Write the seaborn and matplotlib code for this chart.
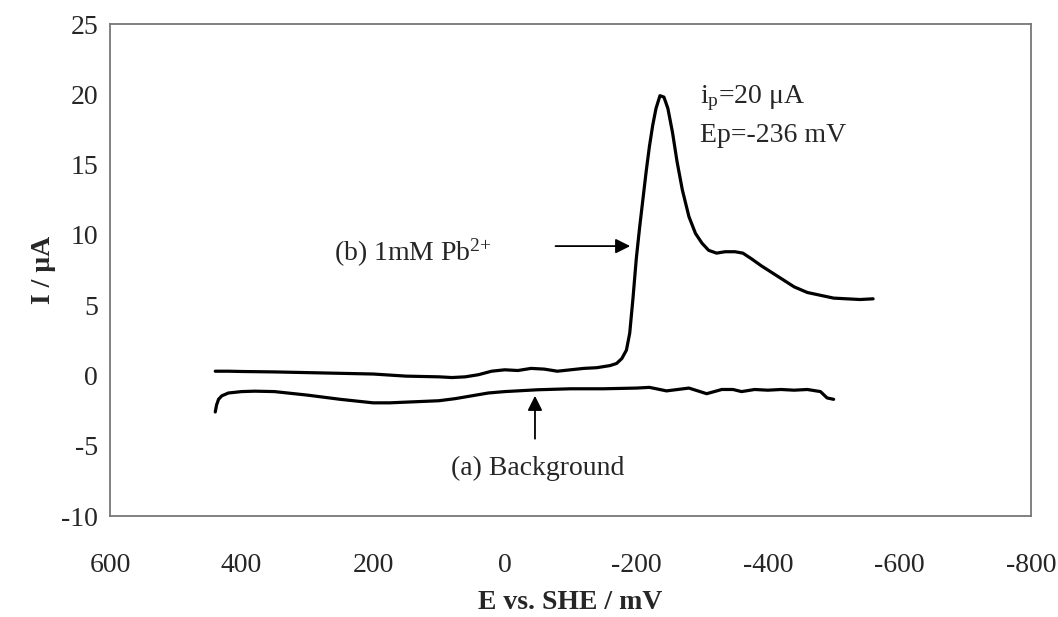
import numpy as np
import pandas as pd
import matplotlib
matplotlib.use("Agg")
import matplotlib.pyplot as plt
import seaborn as sns

# ---- data ----
pb_E = [440, 420, 400, 350, 300, 250, 200, 150, 100, 80, 60, 40, 20, 0, -20, -40, -60,
        -80, -100, -120, -140, -160, -170, -178, -185, -190, -195, -200, -205, -210,
        -215, -220, -225, -230, -236, -242, -248, -255, -262, -270, -280, -290, -300,
        -310, -322, -335, -350, -362, -375, -390, -400, -420, -440, -460, -480, -500,
        -520, -540, -560]
pb_I = [0.30, 0.30, 0.28, 0.25, 0.20, 0.15, 0.10, -0.05, -0.10, -0.15, -0.10, 0.05, 0.30,
        0.40, 0.35, 0.50, 0.45, 0.30, 0.40, 0.50, 0.55, 0.70, 0.85, 1.2, 1.8, 3.0, 5.5,
        8.3, 10.5, 12.5, 14.5, 16.3, 17.8, 19.0, 19.9, 19.8, 19.0, 17.3, 15.2, 13.2, 11.3,
        10.1, 9.4, 8.9, 8.7, 8.8, 8.8, 8.7, 8.3, 7.8, 7.5, 6.9, 6.3, 5.9, 5.7, 5.5,
        5.45, 5.4, 5.45]

bg_E = [440, 438, 435, 430, 420, 400, 380, 350, 300, 250, 200, 175, 150, 100, 75, 50, 25,
        0, -50, -100, -150, -200, -220, -246, -280, -307, -330, -347, -360, -380, -400,
        -420, -440, -460, -480, -490, -500]
bg_I = [-2.6, -2.1, -1.7, -1.45, -1.25, -1.15, -1.12, -1.15, -1.4, -1.7, -1.95, -1.95,
        -1.9, -1.8, -1.65, -1.45, -1.25, -1.15, -1.02, -0.95, -0.95, -0.9, -0.85, -1.1,
        -0.9, -1.3, -1.0, -1.0, -1.15, -1.0, -1.05, -1.0, -1.05, -1.0, -1.15, -1.6, -1.7]

x_ticks = [600, 400, 200, 0, -200, -400, -600, -800]
y_ticks = [-10, -5, 0, 5, 10, 15, 20, 25]

# ---- styling ----
sns.set_theme(style="white")
plt.rcParams["font.family"] = ["Liberation Serif", "DejaVu Serif"]
plt.rcParams["mathtext.fontset"] = "custom"
plt.rcParams["mathtext.rm"] = "Liberation Serif"
plt.rcParams["mathtext.it"] = "Liberation Serif:italic"
plt.rcParams["mathtext.bf"] = "Liberation Serif:bold"

FS = 20
fig = plt.figure(figsize=(10.58, 6.17), dpi=100)
ax = fig.add_axes([110 / 1058, 1 - 516 / 617, (1031 - 110) / 1058, (516 - 24) / 617])

df_pb = pd.DataFrame({"E": pb_E, "I": pb_I})
df_bg = pd.DataFrame({"E": bg_E, "I": bg_I})
sns.lineplot(data=df_pb, x="E", y="I", sort=False, ax=ax, color="black", lw=2.3)
sns.lineplot(data=df_bg, x="E", y="I", sort=False, ax=ax, color="black", lw=2.3)

ax.set_xlim(600, -800)
ax.set_ylim(-10, 25)
ax.set_xticks(x_ticks)
ax.set_yticks(y_ticks)
ax.set_xticklabels([str(v) for v in x_ticks], fontsize=FS)
ax.set_yticklabels([str(v) for v in y_ticks], fontsize=FS)
ax.tick_params(axis="both", direction="inout", length=13, width=1.0, color="#333333")
ax.tick_params(axis="x", pad=20)
ax.tick_params(axis="y", pad=2)
for s in ax.spines.values():
    s.set_visible(True)
    s.set_color("#777777")
    s.set_linewidth(1.3)

ax.set_xlabel("E vs. SHE / mV", fontsize=FS, fontweight="bold", labelpad=9)
ax.set_ylabel("I / μA", fontsize=FS, fontweight="bold", labelpad=4)

# annotations
ax.annotate("", xy=(-195, 9.2), xytext=(-73, 9.2),
            arrowprops=dict(arrowstyle="-|>", color="black", lw=1.3, mutation_scale=22))
ax.text(139, 8.75, "(b) 1mM Pb$^{\\mathregular{2{+}}}$", fontsize=FS, ha="center", va="center")

ax.annotate("", xy=(-46, -1.25), xytext=(-46, -4.7),
            arrowprops=dict(arrowstyle="-|>", color="black", lw=1.3, mutation_scale=22))
ax.text(-50, -6.6, "(a) Background", fontsize=FS, ha="center", va="center")

ax.text(-297, 19.4, "i$_{\\mathregular{p}}$=20 μA", fontsize=FS, ha="left", va="baseline")
ax.text(-297, 16.6, "Ep=-236 mV", fontsize=FS, ha="left", va="baseline")

fig.savefig("out.png", dpi=100)
